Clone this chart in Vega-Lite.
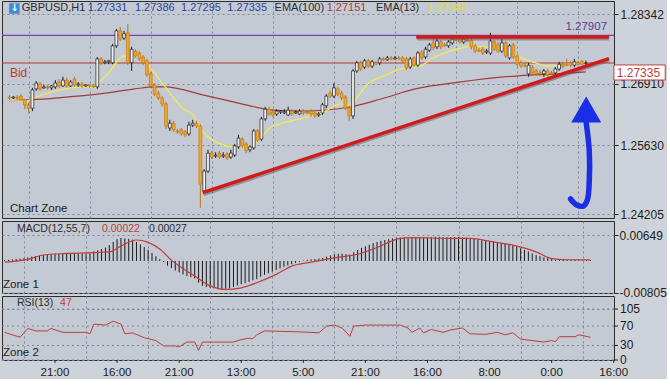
{
"$schema": "https://vega.github.io/schema/vega-lite/v6.json",
"padding": 0,
"spacing": 3,
"bounds": "flush",
"resolve": {"scale": {"x": "independent", "y": "independent"}},
"config": {
 "font": "Liberation Sans",
 "background": "#ced3d9",
 "view": {"stroke": "#2b2b2b", "strokeWidth": 1, "fill": "#c4cad3"},
 "axis": {"labelColor": "#1c1c1c", "labelFont": "Liberation Sans", "gridColor": "#7c8797", "gridDash": [2, 3], "gridWidth": 1, "tickColor": "#222222", "domain": false},
 "text": {"font": "Liberation Sans"}
},
"datasets": {
 "k": [
{"i":3,"o":1.2663,"h":1.2667,"l":1.2657,"c":1.2661,"m":0.0002},
{"i":4,"o":1.2661,"h":1.2665,"l":1.2659,"c":1.2663,"m":0.0003},
{"i":5,"o":1.2663,"h":1.2667,"l":1.2657,"c":1.2661,"m":0.0004},
{"i":6,"o":1.2665,"h":1.2669,"l":1.2655,"c":1.2657,"m":0.0005},
{"i":7,"o":1.2657,"h":1.2659,"l":1.2638,"c":1.2647,"m":0.0006},
{"i":8,"o":1.2647,"h":1.2651,"l":1.2630,"c":1.2640,"m":0.0007},
{"i":9,"o":1.2640,"h":1.2682,"l":1.2634,"c":1.2678,"m":0.0009},
{"i":10,"o":1.2680,"h":1.2696,"l":1.2676,"c":1.2692,"m":0.0011},
{"i":11,"o":1.2690,"h":1.2694,"l":1.2676,"c":1.2680,"m":0.0012},
{"i":12,"o":1.2682,"h":1.2688,"l":1.2680,"c":1.2684,"m":0.0013},
{"i":13,"o":1.2684,"h":1.2688,"l":1.2678,"c":1.2682,"m":0.0015},
{"i":14,"o":1.2682,"h":1.2688,"l":1.2678,"c":1.2686,"m":0.0016},
{"i":15,"o":1.2684,"h":1.2698,"l":1.2680,"c":1.2692,"m":0.0017},
{"i":16,"o":1.2694,"h":1.2700,"l":1.2682,"c":1.2686,"m":0.0018},
{"i":17,"o":1.2686,"h":1.2705,"l":1.2684,"c":1.2698,"m":0.0018},
{"i":18,"o":1.2698,"h":1.2703,"l":1.2682,"c":1.2686,"m":0.0019},
{"i":19,"o":1.2686,"h":1.2698,"l":1.2684,"c":1.2694,"m":0.0019},
{"i":20,"o":1.2700,"h":1.2705,"l":1.2684,"c":1.2688,"m":0.0019},
{"i":21,"o":1.2688,"h":1.2694,"l":1.2684,"c":1.2690,"m":0.0019},
{"i":22,"o":1.2690,"h":1.2694,"l":1.2682,"c":1.2686,"m":0.0019},
{"i":23,"o":1.2686,"h":1.2690,"l":1.2684,"c":1.2688,"m":0.0019},
{"i":24,"o":1.2688,"h":1.2690,"l":1.2682,"c":1.2686,"m":0.0019},
{"i":25,"o":1.2686,"h":1.2688,"l":1.2682,"c":1.2684,"m":0.0019},
{"i":26,"o":1.2684,"h":1.2746,"l":1.2680,"c":1.2742,"m":0.0024},
{"i":27,"o":1.2742,"h":1.2746,"l":1.2729,"c":1.2734,"m":0.0027},
{"i":28,"o":1.2734,"h":1.2740,"l":1.2731,"c":1.2736,"m":0.0030},
{"i":29,"o":1.2736,"h":1.2740,"l":1.2731,"c":1.2738,"m":0.0034},
{"i":30,"o":1.2734,"h":1.2773,"l":1.2731,"c":1.2769,"m":0.0040},
{"i":31,"o":1.2769,"h":1.2804,"l":1.2765,"c":1.2800,"m":0.0048},
{"i":32,"o":1.2800,"h":1.2808,"l":1.2779,"c":1.2783,"m":0.0055},
{"i":33,"o":1.2785,"h":1.2800,"l":1.2781,"c":1.2794,"m":0.0058},
{"i":34,"o":1.2796,"h":1.2814,"l":1.2729,"c":1.2734,"m":0.0057},
{"i":35,"o":1.2734,"h":1.2767,"l":1.2717,"c":1.2762,"m":0.0056},
{"i":36,"o":1.2758,"h":1.2762,"l":1.2744,"c":1.2748,"m":0.0054},
{"i":37,"o":1.2754,"h":1.2758,"l":1.2738,"c":1.2742,"m":0.0048},
{"i":38,"o":1.2746,"h":1.2750,"l":1.2729,"c":1.2734,"m":0.0042},
{"i":39,"o":1.2738,"h":1.2742,"l":1.2705,"c":1.2709,"m":0.0035},
{"i":40,"o":1.2711,"h":1.2715,"l":1.2682,"c":1.2686,"m":0.0028},
{"i":41,"o":1.2688,"h":1.2692,"l":1.2665,"c":1.2669,"m":0.0020},
{"i":42,"o":1.2671,"h":1.2676,"l":1.2657,"c":1.2661,"m":0.0012},
{"i":43,"o":1.2661,"h":1.2665,"l":1.2643,"c":1.2649,"m":0.0005},
{"i":44,"o":1.2649,"h":1.2653,"l":1.2597,"c":1.2603,"m":-0.0003},
{"i":45,"o":1.2599,"h":1.2616,"l":1.2593,"c":1.2609,"m":-0.0012},
{"i":46,"o":1.2609,"h":1.2614,"l":1.2591,"c":1.2595,"m":-0.0018},
{"i":47,"o":1.2593,"h":1.2597,"l":1.2587,"c":1.2591,"m":-0.0024},
{"i":48,"o":1.2595,"h":1.2599,"l":1.2583,"c":1.2587,"m":-0.0029},
{"i":49,"o":1.2591,"h":1.2595,"l":1.2580,"c":1.2585,"m":-0.0034},
{"i":50,"o":1.2587,"h":1.2612,"l":1.2583,"c":1.2605,"m":-0.0038},
{"i":51,"o":1.2605,"h":1.2616,"l":1.2601,"c":1.2609,"m":-0.0041},
{"i":52,"o":1.2609,"h":1.2614,"l":1.2599,"c":1.2603,"m":-0.0044},
{"i":53,"o":1.2603,"h":1.2607,"l":1.2434,"c":1.2483,"m":-0.0055},
{"i":54,"o":1.2469,"h":1.2514,"l":1.2465,"c":1.2510,"m":-0.0063},
{"i":55,"o":1.2510,"h":1.2554,"l":1.2506,"c":1.2547,"m":-0.0066},
{"i":56,"o":1.2547,"h":1.2552,"l":1.2535,"c":1.2539,"m":-0.0068},
{"i":57,"o":1.2541,"h":1.2549,"l":1.2537,"c":1.2543,"m":-0.0069},
{"i":58,"o":1.2547,"h":1.2552,"l":1.2535,"c":1.2539,"m":-0.0070},
{"i":59,"o":1.2541,"h":1.2549,"l":1.2537,"c":1.2543,"m":-0.0070},
{"i":60,"o":1.2545,"h":1.2549,"l":1.2533,"c":1.2537,"m":-0.0070},
{"i":61,"o":1.2539,"h":1.2554,"l":1.2535,"c":1.2547,"m":-0.0069},
{"i":62,"o":1.2543,"h":1.2566,"l":1.2539,"c":1.2562,"m":-0.0066},
{"i":63,"o":1.2560,"h":1.2585,"l":1.2556,"c":1.2578,"m":-0.0062},
{"i":64,"o":1.2576,"h":1.2580,"l":1.2558,"c":1.2562,"m":-0.0059},
{"i":65,"o":1.2566,"h":1.2570,"l":1.2547,"c":1.2552,"m":-0.0056},
{"i":66,"o":1.2554,"h":1.2564,"l":1.2549,"c":1.2560,"m":-0.0053},
{"i":67,"o":1.2558,"h":1.2597,"l":1.2554,"c":1.2593,"m":-0.0049},
{"i":68,"o":1.2593,"h":1.2597,"l":1.2570,"c":1.2574,"m":-0.0046},
{"i":69,"o":1.2576,"h":1.2622,"l":1.2572,"c":1.2618,"m":-0.0040},
{"i":70,"o":1.2618,"h":1.2643,"l":1.2614,"c":1.2638,"m":-0.0035},
{"i":71,"o":1.2638,"h":1.2643,"l":1.2624,"c":1.2628,"m":-0.0031},
{"i":72,"o":1.2632,"h":1.2638,"l":1.2622,"c":1.2626,"m":-0.0027},
{"i":73,"o":1.2628,"h":1.2638,"l":1.2624,"c":1.2634,"m":-0.0023},
{"i":74,"o":1.2632,"h":1.2636,"l":1.2628,"c":1.2634,"m":-0.0019},
{"i":75,"o":1.2630,"h":1.2638,"l":1.2628,"c":1.2632,"m":-0.0015},
{"i":76,"o":1.2626,"h":1.2643,"l":1.2624,"c":1.2636,"m":-0.0011},
{"i":77,"o":1.2634,"h":1.2638,"l":1.2624,"c":1.2628,"m":-0.0008},
{"i":78,"o":1.2630,"h":1.2636,"l":1.2628,"c":1.2632,"m":-0.0005},
{"i":79,"o":1.2628,"h":1.2638,"l":1.2626,"c":1.2634,"m":-0.0002},
{"i":80,"o":1.2634,"h":1.2638,"l":1.2626,"c":1.2630,"m":0.0001},
{"i":81,"o":1.2632,"h":1.2636,"l":1.2628,"c":1.2630,"m":0.0003},
{"i":82,"o":1.2634,"h":1.2638,"l":1.2622,"c":1.2628,"m":0.0004},
{"i":83,"o":1.2630,"h":1.2634,"l":1.2620,"c":1.2624,"m":0.0005},
{"i":84,"o":1.2626,"h":1.2632,"l":1.2622,"c":1.2628,"m":0.0006},
{"i":85,"o":1.2630,"h":1.2651,"l":1.2626,"c":1.2647,"m":0.0008},
{"i":86,"o":1.2645,"h":1.2669,"l":1.2640,"c":1.2665,"m":0.0011},
{"i":87,"o":1.2671,"h":1.2676,"l":1.2661,"c":1.2665,"m":0.0014},
{"i":88,"o":1.2665,"h":1.2692,"l":1.2661,"c":1.2682,"m":0.0017},
{"i":89,"o":1.2680,"h":1.2684,"l":1.2665,"c":1.2669,"m":0.0018},
{"i":90,"o":1.2671,"h":1.2676,"l":1.2657,"c":1.2661,"m":0.0018},
{"i":91,"o":1.2663,"h":1.2667,"l":1.2636,"c":1.2640,"m":0.0017},
{"i":92,"o":1.2640,"h":1.2645,"l":1.2614,"c":1.2624,"m":0.0016},
{"i":93,"o":1.2624,"h":1.2721,"l":1.2618,"c":1.2717,"m":0.0022},
{"i":94,"o":1.2717,"h":1.2738,"l":1.2713,"c":1.2734,"m":0.0028},
{"i":95,"o":1.2734,"h":1.2738,"l":1.2717,"c":1.2721,"m":0.0033},
{"i":96,"o":1.2725,"h":1.2742,"l":1.2721,"c":1.2738,"m":0.0037},
{"i":97,"o":1.2738,"h":1.2742,"l":1.2723,"c":1.2727,"m":0.0041},
{"i":98,"o":1.2727,"h":1.2740,"l":1.2723,"c":1.2736,"m":0.0045},
{"i":99,"o":1.2734,"h":1.2738,"l":1.2729,"c":1.2731,"m":0.0048},
{"i":100,"o":1.2734,"h":1.2746,"l":1.2729,"c":1.2742,"m":0.0051},
{"i":101,"o":1.2742,"h":1.2746,"l":1.2738,"c":1.2740,"m":0.0053},
{"i":102,"o":1.2740,"h":1.2748,"l":1.2738,"c":1.2744,"m":0.0055},
{"i":103,"o":1.2744,"h":1.2748,"l":1.2740,"c":1.2742,"m":0.0057},
{"i":104,"o":1.2742,"h":1.2748,"l":1.2740,"c":1.2744,"m":0.0058},
{"i":105,"o":1.2744,"h":1.2748,"l":1.2740,"c":1.2742,"m":0.0059},
{"i":106,"o":1.2744,"h":1.2748,"l":1.2734,"c":1.2738,"m":0.0059},
{"i":107,"o":1.2742,"h":1.2746,"l":1.2719,"c":1.2723,"m":0.0058},
{"i":108,"o":1.2725,"h":1.2746,"l":1.2721,"c":1.2742,"m":0.0058},
{"i":109,"o":1.2744,"h":1.2748,"l":1.2725,"c":1.2729,"m":0.0058},
{"i":110,"o":1.2729,"h":1.2758,"l":1.2725,"c":1.2754,"m":0.0059},
{"i":111,"o":1.2756,"h":1.2760,"l":1.2740,"c":1.2744,"m":0.0059},
{"i":112,"o":1.2746,"h":1.2767,"l":1.2742,"c":1.2762,"m":0.0060},
{"i":113,"o":1.2760,"h":1.2775,"l":1.2756,"c":1.2771,"m":0.0060},
{"i":114,"o":1.2775,"h":1.2785,"l":1.2760,"c":1.2765,"m":0.0061},
{"i":115,"o":1.2767,"h":1.2785,"l":1.2762,"c":1.2779,"m":0.0061},
{"i":116,"o":1.2777,"h":1.2781,"l":1.2762,"c":1.2767,"m":0.0060},
{"i":117,"o":1.2771,"h":1.2775,"l":1.2767,"c":1.2769,"m":0.0060},
{"i":118,"o":1.2769,"h":1.2781,"l":1.2765,"c":1.2777,"m":0.0060},
{"i":119,"o":1.2775,"h":1.2787,"l":1.2771,"c":1.2783,"m":0.0060},
{"i":120,"o":1.2783,"h":1.2787,"l":1.2779,"c":1.2781,"m":0.0060},
{"i":121,"o":1.2783,"h":1.2787,"l":1.2773,"c":1.2777,"m":0.0059},
{"i":122,"o":1.2777,"h":1.2787,"l":1.2773,"c":1.2783,"m":0.0059},
{"i":123,"o":1.2781,"h":1.2785,"l":1.2777,"c":1.2779,"m":0.0058},
{"i":124,"o":1.2781,"h":1.2785,"l":1.2762,"c":1.2767,"m":0.0056},
{"i":125,"o":1.2769,"h":1.2773,"l":1.2754,"c":1.2758,"m":0.0054},
{"i":126,"o":1.2760,"h":1.2765,"l":1.2756,"c":1.2758,"m":0.0052},
{"i":127,"o":1.2762,"h":1.2767,"l":1.2750,"c":1.2754,"m":0.0051},
{"i":128,"o":1.2756,"h":1.2762,"l":1.2752,"c":1.2758,"m":0.0049},
{"i":129,"o":1.2754,"h":1.2796,"l":1.2750,"c":1.2779,"m":0.0050},
{"i":130,"o":1.2777,"h":1.2781,"l":1.2758,"c":1.2762,"m":0.0048},
{"i":131,"o":1.2771,"h":1.2777,"l":1.2754,"c":1.2758,"m":0.0046},
{"i":132,"o":1.2758,"h":1.2783,"l":1.2754,"c":1.2775,"m":0.0045},
{"i":133,"o":1.2775,"h":1.2779,"l":1.2744,"c":1.2748,"m":0.0042},
{"i":134,"o":1.2744,"h":1.2773,"l":1.2740,"c":1.2769,"m":0.0040},
{"i":135,"o":1.2771,"h":1.2775,"l":1.2742,"c":1.2746,"m":0.0036},
{"i":136,"o":1.2748,"h":1.2752,"l":1.2727,"c":1.2731,"m":0.0032},
{"i":137,"o":1.2734,"h":1.2738,"l":1.2723,"c":1.2727,"m":0.0028},
{"i":138,"o":1.2729,"h":1.2734,"l":1.2725,"c":1.2727,"m":0.0024},
{"i":139,"o":1.2711,"h":1.2734,"l":1.2705,"c":1.2729,"m":0.0019},
{"i":140,"o":1.2725,"h":1.2729,"l":1.2707,"c":1.2713,"m":0.0015},
{"i":141,"o":1.2717,"h":1.2721,"l":1.2707,"c":1.2711,"m":0.0012},
{"i":142,"o":1.2713,"h":1.2719,"l":1.2707,"c":1.2711,"m":0.0009},
{"i":143,"o":1.2711,"h":1.2721,"l":1.2705,"c":1.2717,"m":0.0007},
{"i":144,"o":1.2717,"h":1.2721,"l":1.2705,"c":1.2709,"m":0.0005},
{"i":145,"o":1.2713,"h":1.2717,"l":1.2709,"c":1.2711,"m":0.0004},
{"i":146,"o":1.2713,"h":1.2725,"l":1.2709,"c":1.2721,"m":0.0004},
{"i":147,"o":1.2721,"h":1.2736,"l":1.2717,"c":1.2731,"m":0.0004},
{"i":148,"o":1.2731,"h":1.2736,"l":1.2723,"c":1.2727,"m":0.0003},
{"i":149,"o":1.2731,"h":1.2742,"l":1.2727,"c":1.2729,"m":0.0003},
{"i":150,"o":1.2734,"h":1.2738,"l":1.2725,"c":1.2729,"m":0.0003},
{"i":151,"o":1.2729,"h":1.2742,"l":1.2725,"c":1.2736,"m":0.0002},
{"i":152,"o":1.2734,"h":1.2738,"l":1.2729,"c":1.2731,"m":0.0002},
{"i":153,"o":1.2736,"h":1.2740,"l":1.2729,"c":1.2731,"m":0.0002},
{"i":154,"o":1.27331,"h":1.27386,"l":1.27295,"c":1.27335,"m":0.00022}
 ],
 "e13": [
{"i":3,"v":1.2655},{"i":7.5,"v":1.2655},{"i":10,"v":1.2663},{"i":15.2,"v":1.2676},{"i":17.8,"v":1.2680},{"i":23,"v":1.2684},{"i":25.5,"v":1.2682},{"i":26.8,"v":1.2696},{"i":29.4,"v":1.2717},{"i":32,"v":1.2744},{"i":33.3,"v":1.2748},{"i":35.8,"v":1.2748},{"i":38.4,"v":1.2738},{"i":41,"v":1.2713},{"i":43.6,"v":1.2686},{"i":46.2,"v":1.2659},{"i":48.7,"v":1.2638},{"i":51.3,"v":1.2624},{"i":52.6,"v":1.2603},{"i":54.7,"v":1.2583},{"i":58.3,"v":1.2566},{"i":61.6,"v":1.2560},{"i":65,"v":1.2562},{"i":67.5,"v":1.2568},{"i":69.3,"v":1.2583},{"i":71.2,"v":1.2599},{"i":73.7,"v":1.2607},{"i":77,"v":1.2614},{"i":82.2,"v":1.2624},{"i":84.8,"v":1.2630},{"i":90,"v":1.2649},{"i":92.5,"v":1.2645},{"i":94.3,"v":1.2665},{"i":96.9,"v":1.2690},{"i":101,"v":1.2707},{"i":105.4,"v":1.2721},{"i":110.6,"v":1.2727},{"i":114,"v":1.2744},{"i":118.3,"v":1.2758},{"i":121.7,"v":1.2765},{"i":124.2,"v":1.2769},{"i":129.4,"v":1.2765},{"i":133.8,"v":1.2758},{"i":137.1,"v":1.2744},{"i":140.7,"v":1.2734},{"i":144.1,"v":1.2727},{"i":146.7,"v":1.2729},{"i":154,"v":1.27348}
 ],
 "e100": [
{"i":3,"v":1.2655},{"i":15.2,"v":1.2661},{"i":28.1,"v":1.2671},{"i":35.8,"v":1.2680},{"i":41,"v":1.2684},{"i":43.6,"v":1.2684},{"i":53.9,"v":1.2667},{"i":61.6,"v":1.2653},{"i":67,"v":1.2643},{"i":72,"v":1.2636},{"i":79.7,"v":1.2634},{"i":92.5,"v":1.2643},{"i":100.3,"v":1.2659},{"i":109.3,"v":1.2680},{"i":120.9,"v":1.2694},{"i":136.4,"v":1.2707},{"i":146.7,"v":1.2711},{"i":154,"v":1.27151}
 ],
 "sig": [
{"i":3,"s":-0.0003},{"i":9,"s":0.0004},{"i":13,"s":0.0015},{"i":19,"s":0.0019},{"i":30,"s":0.0023},{"i":33,"s":0.0038},{"i":37,"s":0.0053},{"i":40,"s":0.0047},{"i":43,"s":0.0030},{"i":46,"s":0.0002},{"i":52,"s":-0.0038},{"i":56,"s":-0.0063},{"i":60,"s":-0.0072},{"i":64,"s":-0.0068},{"i":68,"s":-0.0055},{"i":73,"s":-0.0034},{"i":77,"s":-0.0013},{"i":82,"s":-0.0003},{"i":88,"s":0.0008},{"i":94,"s":0.0017},{"i":99,"s":0.0034},{"i":105,"s":0.0057},{"i":108,"s":0.0059},{"i":118,"s":0.0057},{"i":123,"s":0.0057},{"i":129,"s":0.0048},{"i":134,"s":0.0040},{"i":140,"s":0.0023},{"i":144,"s":0.0006},{"i":148,"s":0.0003},{"i":154,"s":0.00027}
 ],
 "rsi": [
{"i":3,"r":57},{"i":7,"r":47},{"i":9,"r":65},{"i":11,"r":60},{"i":14,"r":60},{"i":15,"r":65},{"i":18,"r":57},{"i":24,"r":57},{"i":25,"r":54},{"i":26,"r":74},{"i":29,"r":72},{"i":31,"r":80},{"i":33,"r":74},{"i":34,"r":54},{"i":36,"r":56},{"i":39,"r":46},{"i":42,"r":40},{"i":44,"r":29},{"i":47,"r":29},{"i":48,"r":27},{"i":50,"r":37},{"i":52,"r":37},{"i":53,"r":20},{"i":54,"r":37},{"i":62,"r":37},{"i":64,"r":42},{"i":66,"r":45},{"i":67,"r":44},{"i":68,"r":52},{"i":70,"r":60},{"i":79,"r":58},{"i":82,"r":57},{"i":84,"r":56},{"i":86,"r":70},{"i":88,"r":72},{"i":90,"r":66},{"i":92,"r":49},{"i":93,"r":70},{"i":96,"r":72},{"i":105,"r":72},{"i":107,"r":66},{"i":108,"r":57},{"i":110,"r":66},{"i":111,"r":56},{"i":113,"r":63},{"i":116,"r":57},{"i":118,"r":62},{"i":121,"r":66},{"i":123,"r":54},{"i":127,"r":53},{"i":130,"r":57},{"i":132,"r":52},{"i":134,"r":56},{"i":136,"r":43},{"i":139,"r":40},{"i":142,"r":37},{"i":144,"r":40},{"i":145,"r":38},{"i":146,"r":48},{"i":150,"r":48},{"i":151,"r":52},{"i":154,"r":47}
 ],
 "rsiLevels": [{"v":105,"t":"105"},{"v":70,"t":"70"},{"v":30,"t":"30"},{"v":0,"t":"0"}],
 "ticks": [
{"i":16,"t":"21:00"},{"i":32,"t":"16:00"},{"i":48,"t":"21:00"},{"i":64,"t":"13:00"},{"i":80,"t":"5:00"},{"i":96,"t":"21:00"},{"i":112,"t":"16:00"},{"i":128,"t":"8:00"},{"i":144,"t":"0:00"},{"i":160,"t":"16:00"}
 ],
 "arrow": [
{"k":1,"i":150.0,"p":1.24522},{"k":2,"i":151.6,"p":1.24398},{"k":3,"i":153.4,"p":1.24378},{"k":4,"i":154.4,"p":1.24502},{"k":5,"i":154.9,"p":1.24895},{"k":6,"i":154.9,"p":1.25515},{"k":7,"i":154.1,"p":1.26094}
 ]
},
"vconcat": [
 {
  "width": 612, "height": 217,
  "layer": [
   {"data": {"values": [{}]}, "mark": {"type": "rule", "color": "#6b46b4", "strokeWidth": 1.2}, "encoding": {"y": {"datum": 1.27907}}},
   {"data": {"values": [{}]}, "mark": {"type": "rule", "color": "#c0392b", "strokeWidth": 1}, "encoding": {"y": {"datum": 1.27335}}},
   {"data": {"name": "e100"}, "mark": {"type": "line", "color": "#a53a3a", "strokeWidth": 1.2, "interpolate": "monotone"}, "encoding": {"x": {"field": "i", "type": "quantitative"}, "y": {"field": "v", "type": "quantitative"}}},
   {"data": {"name": "e13"}, "mark": {"type": "line", "color": "#f0ea58", "strokeWidth": 1.3, "interpolate": "monotone"}, "encoding": {"x": {"field": "i", "type": "quantitative"}, "y": {"field": "v", "type": "quantitative"}}},
   {"data": {"name": "k"}, "mark": {"type": "rule", "strokeWidth": 1},
    "encoding": {
     "x": {"field": "i", "type": "quantitative", "scale": {"domain": [2.34, 160.07], "nice": false, "zero": false},
       "axis": {"values": [8,16,24,32,40,48,56,64,72,80,88,96,104,112,120,128,136,144,152,160], "grid": true, "labels": false, "ticks": false, "title": null}},
     "y": {"field": "l", "type": "quantitative", "scale": {"domain": [1.24129, 1.28617], "nice": false, "zero": false},
       "axis": {"orient": "right", "values": [1.24205, 1.2499, 1.2563, 1.2627, 1.2691, 1.2755, 1.28342], "format": ".5f", "grid": true, "tickSize": 4, "labelFontSize": 12, "labelPadding": 2, "labelOverlap": false, "title": null}},
     "y2": {"field": "h"},
     "color": {"condition": {"test": "datum.c >= datum.o", "value": "#1c1c1c"}, "value": "#b87416"}
    }},
   {"data": {"name": "k"}, "mark": {"type": "bar", "size": 2.8, "strokeWidth": 0.7},
    "encoding": {
     "x": {"field": "i", "type": "quantitative"},
     "y": {"field": "o", "type": "quantitative"},
     "y2": {"field": "c"},
     "fill": {"condition": {"test": "datum.c >= datum.o", "value": "#f2f2f2"}, "value": "#f2a531"},
     "stroke": {"condition": {"test": "datum.c >= datum.o", "value": "#1c1c1c"}, "value": "#c27a12"}
    }},
   {"data": {"values": [{}]}, "mark": {"type": "rule", "color": "#505050", "opacity": 0.45, "strokeWidth": 3}, "encoding": {"x": {"datum": 53.9}, "x2": {"datum": 160.07}, "y": {"datum": 1.24613}, "y2": {"datum": 1.27386}}},
   {"data": {"values": [{}]}, "mark": {"type": "rule", "color": "#d11a1a", "strokeWidth": 3.5}, "encoding": {"x": {"datum": 53.63}, "x2": {"datum": 160.07}, "y": {"datum": 1.24653}, "y2": {"datum": 1.27426}}},
   {"data": {"values": [{}]}, "mark": {"type": "rule", "color": "#505050", "opacity": 0.45, "strokeWidth": 3}, "encoding": {"x": {"datum": 109.8}, "x2": {"datum": 160.07}, "y": {"datum": 1.27833}}},
   {"data": {"values": [{}]}, "mark": {"type": "rule", "color": "#d11a1a", "strokeWidth": 3.5}, "encoding": {"x": {"datum": 109.56}, "x2": {"datum": 160.07}, "y": {"datum": 1.27873}}},
   {"data": {"name": "arrow"}, "mark": {"type": "line", "color": "#1a2ee6", "strokeWidth": 5.5, "interpolate": "catmull-rom", "strokeCap": "round"}, "encoding": {"x": {"field": "i", "type": "quantitative"}, "y": {"field": "p", "type": "quantitative"}, "order": {"field": "k"}}},
   {"data": {"values": [{}]}, "mark": {"type": "point", "shape": "triangle-up", "size": 900, "filled": true, "color": "#1a2ee6", "opacity": 1}, "encoding": {"x": {"datum": 154.1}, "y": {"datum": 1.26373}}},
   {"data": {"values": [{}]}, "mark": {"type": "rect", "fill": "#ffffff", "stroke": "#c23b3b", "strokeWidth": 1}, "encoding": {"x": {"datum": 161.36}, "x2": {"datum": 174.8}, "y": {"datum": 1.27294}, "y2": {"datum": 1.26983}}},
   {"data": {"values": [{}]}, "mark": {"type": "text", "text": "1.27335", "color": "#c23b3b", "fontSize": 12, "align": "left", "baseline": "middle"}, "encoding": {"x": {"datum": 162.1}, "y": {"datum": 1.27138}}},
   {"data": {"values": [{}]}, "mark": {"type": "text", "text": "1.27907", "color": "#5b3a9c", "fontSize": 11.5, "align": "right", "baseline": "middle"}, "encoding": {"x": {"datum": 159.56}, "y": {"datum": 1.28079}}},
   {"data": {"values": [{}]}, "mark": {"type": "text", "text": "Bid", "color": "#c0392b", "fontSize": 12, "align": "left", "baseline": "middle"}, "encoding": {"x": {"datum": 3.11}, "y": {"datum": 1.2713}}},
   {"data": {"values": [{}]}, "mark": {"type": "text", "text": "Chart Zone", "color": "#1c1c1c", "fontSize": 11.5, "align": "left", "baseline": "middle"}, "encoding": {"x": {"datum": 3.11}, "y": {"datum": 1.24316}}},
   {"data": {"values": [{}]}, "mark": {"type": "point", "shape": "square", "size": 110, "filled": true, "color": "#3d8cd6", "opacity": 1}, "encoding": {"x": {"datum": 4.27}, "y": {"datum": 1.28462}}},
   {"data": {"values": [{}]}, "mark": {"type": "text", "text": "↓", "color": "#ffffff", "fontSize": 10, "fontWeight": "bold", "align": "center", "baseline": "middle", "font": "DejaVu Sans"}, "encoding": {"x": {"datum": 4.27}, "y": {"datum": 1.28462}}},
   {"data": {"values": [{}]}, "mark": {"type": "text", "text": "GBPUSD,H1", "color": "#2b2b2b", "fontSize": 11, "align": "left", "baseline": "middle"}, "encoding": {"x": {"datum": 6.21}, "y": {"datum": 1.28462}}},
   {"data": {"values": [{}]}, "mark": {"type": "text", "text": "1.27331", "color": "#2f3f99", "fontSize": 11, "align": "left", "baseline": "middle"}, "encoding": {"x": {"datum": 23.47}, "y": {"datum": 1.28462}}},
   {"data": {"values": [{}]}, "mark": {"type": "text", "text": "1.27386", "color": "#2f3f99", "fontSize": 11, "align": "left", "baseline": "middle"}, "encoding": {"x": {"datum": 35.85}, "y": {"datum": 1.28462}}},
   {"data": {"values": [{}]}, "mark": {"type": "text", "text": "1.27295", "color": "#2f3f99", "fontSize": 11, "align": "left", "baseline": "middle"}, "encoding": {"x": {"datum": 47.96}, "y": {"datum": 1.28462}}},
   {"data": {"values": [{}]}, "mark": {"type": "text", "text": "1.27335", "color": "#2f3f99", "fontSize": 11, "align": "left", "baseline": "middle"}, "encoding": {"x": {"datum": 60.07}, "y": {"datum": 1.28462}}},
   {"data": {"values": [{}]}, "mark": {"type": "text", "text": "EMA(100)", "color": "#2b2b2b", "fontSize": 11, "align": "left", "baseline": "middle"}, "encoding": {"x": {"datum": 72.44}, "y": {"datum": 1.28462}}},
   {"data": {"values": [{}]}, "mark": {"type": "text", "text": "1.27151", "color": "#b03a3a", "fontSize": 11, "align": "left", "baseline": "middle"}, "encoding": {"x": {"datum": 86.1}, "y": {"datum": 1.28462}}},
   {"data": {"values": [{}]}, "mark": {"type": "text", "text": "EMA(13)", "color": "#2b2b2b", "fontSize": 11, "align": "left", "baseline": "middle"}, "encoding": {"x": {"datum": 98.99}, "y": {"datum": 1.28462}}},
   {"data": {"values": [{}]}, "mark": {"type": "text", "text": "1.27348", "color": "#e2da36", "fontSize": 11, "align": "left", "baseline": "middle"}, "encoding": {"x": {"datum": 112.39}, "y": {"datum": 1.28462}}}
  ]
 },
 {
  "width": 612, "height": 72,
  "layer": [
   {"data": {"name": "k"}, "mark": {"type": "rule", "color": "#1a1a1a", "strokeWidth": 1},
    "encoding": {
     "x": {"field": "i", "type": "quantitative", "scale": {"domain": [2.34, 160.07], "nice": false, "zero": false},
       "axis": {"values": [8,16,24,32,40,48,56,64,72,80,88,96,104,112,120,128,136,144,152,160], "grid": true, "labels": false, "ticks": false, "title": null}},
     "y": {"field": "m", "type": "quantitative", "scale": {"domain": [-0.0081, 0.0101], "nice": false, "zero": false},
       "axis": {"orient": "right", "values": [-0.00805, 0.00649], "format": ".5f", "labelExpr": "replace(datum.label, '−', '-')", "grid": true, "tickSize": 4, "labelFontSize": 12, "labelPadding": 1, "labelOverlap": false, "title": null}},
     "y2": {"datum": 0}
    }},
   {"data": {"name": "sig"}, "mark": {"type": "line", "color": "#c23b3b", "strokeWidth": 1.2, "interpolate": "monotone"}, "encoding": {"x": {"field": "i", "type": "quantitative"}, "y": {"field": "s", "type": "quantitative"}}},
   {"data": {"values": [{}]}, "mark": {"type": "text", "text": "MACD(12,55,7)", "color": "#2b2b2b", "fontSize": 10.5, "align": "left", "baseline": "middle"}, "encoding": {"x": {"datum": 6.21}, "y": {"datum": 0.0081}}},
   {"data": {"values": [{}]}, "mark": {"type": "text", "text": "0.00022", "color": "#c23b3b", "fontSize": 10.5, "align": "left", "baseline": "middle"}, "encoding": {"x": {"datum": 28.1}, "y": {"datum": 0.0081}}},
   {"data": {"values": [{}]}, "mark": {"type": "text", "text": "0.00027", "color": "#2b2b2b", "fontSize": 10.5, "align": "left", "baseline": "middle"}, "encoding": {"x": {"datum": 40.2}, "y": {"datum": 0.0081}}},
   {"data": {"values": [{}]}, "mark": {"type": "text", "text": "Zone 1", "color": "#1c1c1c", "fontSize": 11.5, "align": "left", "baseline": "middle"}, "encoding": {"x": {"datum": 2.6}, "y": {"datum": -0.00608}}}
  ]
 },
 {
  "width": 612, "height": 64,
  "layer": [
   {"data": {"name": "rsi"}, "mark": {"type": "line", "color": "#c23b3b", "strokeWidth": 1},
    "encoding": {
     "x": {"field": "i", "type": "quantitative", "scale": {"domain": [2.34, 160.07], "nice": false, "zero": false},
       "axis": {"values": [8,16,24,32,40,48,56,64,72,80,88,96,104,112,120,128,136,144,152,160], "grid": true, "labels": false, "ticks": false, "title": null}},
     "y": {"field": "r", "type": "quantitative", "scale": {"domain": [0, 132], "nice": false, "zero": false},
       "axis": {"orient": "right", "values": [0, 30, 70, 105], "grid": true, "labels": false, "ticks": false, "title": null}}
    }},
   {"data": {"name": "rsiLevels"}, "mark": {"type": "rule", "color": "#7c8797", "strokeWidth": 1, "strokeDash": [2, 3]}, "encoding": {"y": {"field": "v", "type": "quantitative"}}},
   {"data": {"name": "rsiLevels"}, "mark": {"type": "rule", "color": "#222222", "strokeWidth": 1}, "encoding": {"x": {"datum": 160.07}, "x2": {"datum": 161.1}, "y": {"field": "v", "type": "quantitative"}}},
   {"data": {"name": "rsiLevels"}, "mark": {"type": "text", "color": "#1c1c1c", "fontSize": 12, "align": "left", "baseline": "middle"}, "encoding": {"x": {"datum": 161.62}, "y": {"field": "v", "type": "quantitative"}, "text": {"field": "t", "type": "nominal"}}},
   {"data": {"name": "ticks"}, "mark": {"type": "rule", "color": "#222222", "strokeWidth": 1}, "encoding": {"x": {"field": "i", "type": "quantitative"}, "y": {"datum": 0}, "y2": {"datum": -6}}},
   {"data": {"name": "ticks"}, "mark": {"type": "text", "color": "#1c1c1c", "fontSize": 11.5, "align": "center", "baseline": "middle"}, "encoding": {"x": {"field": "i", "type": "quantitative"}, "y": {"datum": -26.5}, "text": {"field": "t", "type": "nominal"}}},
   {"data": {"values": [{}]}, "mark": {"type": "text", "text": "RSI(13)", "color": "#2b2b2b", "fontSize": 10.5, "align": "left", "baseline": "middle"}, "encoding": {"x": {"datum": 6.21}, "y": {"datum": 117.6}}},
   {"data": {"values": [{}]}, "mark": {"type": "text", "text": "47", "color": "#c23b3b", "fontSize": 10.5, "align": "left", "baseline": "middle"}, "encoding": {"x": {"datum": 17.3}, "y": {"datum": 117.6}}},
   {"data": {"values": [{}]}, "mark": {"type": "text", "text": "Zone 2", "color": "#1c1c1c", "fontSize": 11.5, "align": "left", "baseline": "middle"}, "encoding": {"x": {"datum": 2.6}, "y": {"datum": 14.4}}}
  ]
 }
]
}
